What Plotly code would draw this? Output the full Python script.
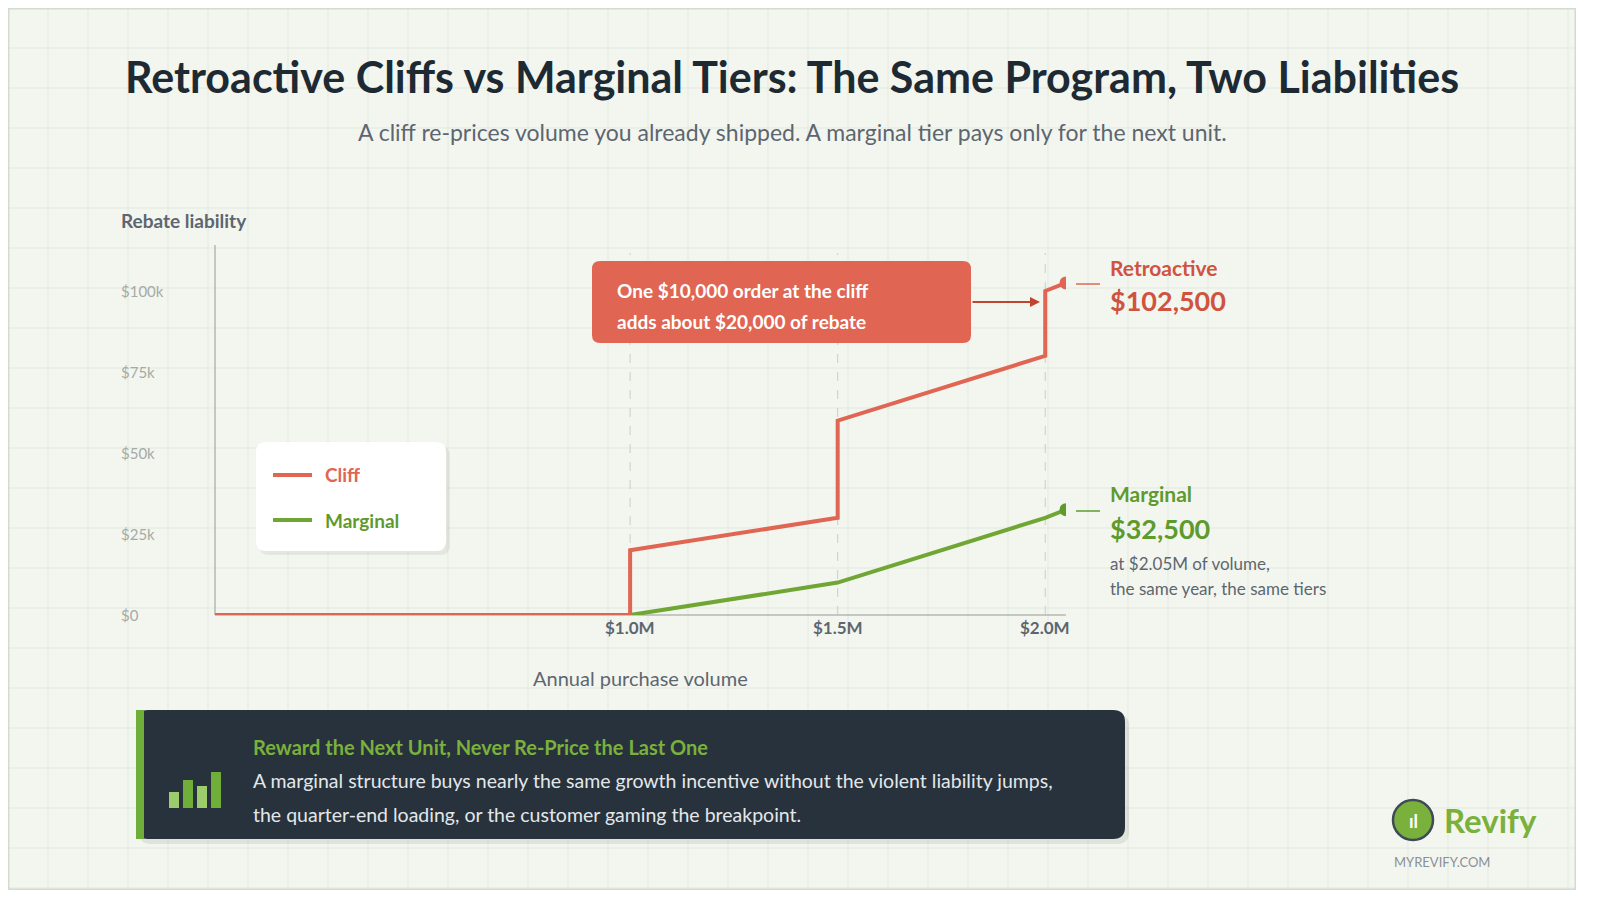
import plotly.graph_objects as go

W, H = 1568, 882
cliff_x = [0, 1.0, 1.0, 1.5, 1.5, 2.0, 2.0, 2.05]
cliff_y = [0, 0, 20, 30, 60, 80, 100, 102.5]
marg_x = [0, 1.0, 1.5, 2.0, 2.05]
marg_y = [0, 0, 10, 30, 32.5]
x_ticks = [1.0, 1.5, 2.0]
x_labels = ["$1.0M", "$1.5M", "$2.0M"]
y_ticks = [0, 25, 50, 75, 100]
y_labels = ["$0", "$25k", "$50k", "$75k", "$100k"]

RED = "#e06552"; GREEN = "#6fa634"; DARK = "#1e2a33"; GREY = "#5d6670"
FONT = "Lato"

def px(x): return x / W
def py(y): return 1 - y / H

def rrect(x0, y0, x1, y1, r, fill, line=None, lw=0):
    X0, X1 = px(x0), px(x1); Y0, Y1 = py(y0), py(y1)
    rx, ry = r / W, r / H
    p = (f"M{X0+rx},{Y0} L{X1-rx},{Y0} Q{X1},{Y0} {X1},{Y0-ry} L{X1},{Y1+ry} Q{X1},{Y1} {X1-rx},{Y1} "
         f"L{X0+rx},{Y1} Q{X0},{Y1} {X0},{Y1+ry} L{X0},{Y0-ry} Q{X0},{Y0} {X0+rx},{Y0} Z")
    return dict(type="path", xref="paper", yref="paper", path=p, fillcolor=fill,
                line=dict(color=line or fill, width=lw), layer="above")

fig = go.Figure()
fig.add_trace(go.Scatter(x=marg_x, y=marg_y, mode="lines", line=dict(color=GREEN, width=4), showlegend=False, hoverinfo="skip"))
fig.add_trace(go.Scatter(x=cliff_x, y=cliff_y, mode="lines", line=dict(color=RED, width=4), showlegend=False, hoverinfo="skip"))
fig.add_trace(go.Scatter(x=[cliff_x[-1], marg_x[-1]], y=[cliff_y[-1], marg_y[-1]], mode="markers",
                         marker=dict(color=[RED, "#5e9a2c"], size=13), showlegend=False, hoverinfo="skip"))

shapes = []
for gx in range(40, W, 40):
    shapes.append(dict(type="line", xref="paper", yref="paper", x0=px(gx), x1=px(gx), y0=0, y1=1,
                       line=dict(color="#e2e8df", width=1), layer="below"))
for gy in range(40, H, 40):
    shapes.append(dict(type="line", xref="paper", yref="paper", x0=0, x1=1, y0=py(gy), y1=py(gy),
                       line=dict(color="#e2e8df", width=1), layer="below"))
shapes.append(dict(type="rect", xref="paper", yref="paper", x0=0, x1=1, y0=0, y1=1,
                   line=dict(color="#d3dbcd", width=3), layer="below"))
for t in x_ticks:
    shapes.append(dict(type="line", xref="x", yref="paper", x0=t, x1=t, y0=py(607), y1=py(245),
                       line=dict(color="#c9cdc6", width=1, dash="dash"), layer="below"))
shapes.append(dict(type="line", xref="paper", yref="paper", x0=px(207), x1=px(207), y0=py(237), y1=py(607),
                   line=dict(color="#b5b9b4", width=1.5), layer="below"))
shapes.append(dict(type="line", xref="paper", yref="paper", x0=px(207), x1=px(1058), y0=py(607), y1=py(607),
                   line=dict(color="#b5b9b4", width=1.5), layer="below"))
shapes.append(rrect(584, 253, 963, 335, 8, RED))
for yy, c in [(276, RED), (503, "#5e9a2c")]:
    shapes.append(dict(type="line", xref="paper", yref="paper", x0=px(1068), x1=px(1092), y0=py(yy), y1=py(yy),
                       line=dict(color=c, width=1.5)))
shapes.append(rrect(251, 438, 442, 547, 10, "rgba(0,0,0,0.06)"))
shapes.append(rrect(248, 434, 438, 543, 10, "white"))
shapes.append(dict(type="line", xref="paper", yref="paper", x0=px(265), x1=px(304), y0=py(467), y1=py(467), line=dict(color=RED, width=4), layer="above"))
shapes.append(dict(type="line", xref="paper", yref="paper", x0=px(265), x1=px(304), y0=py(512), y1=py(512), line=dict(color=GREEN, width=4), layer="above"))
shapes.append(rrect(131, 706, 1121, 836, 12, "rgba(0,0,0,0.08)"))
shapes.append(rrect(128, 702, 1117, 831, 12, "#27323c"))
shapes.append(dict(type="rect", xref="paper", yref="paper", x0=px(128), x1=px(136), y0=py(831), y1=py(702),
                   fillcolor="#6fae39", line=dict(width=0), layer="above"))
for (x0, top, c) in [(161, 784, "#9ccc6c"), (175, 772, "#6fae39"), (189, 778, "#9ccc6c"), (203, 764, "#6fae39")]:
    shapes.append(dict(type="rect", xref="paper", yref="paper", x0=px(x0), x1=px(x0+10), y0=py(800), y1=py(top),
                       fillcolor=c, line=dict(width=0), layer="above"))
shapes.append(dict(type="circle", xref="paper", yref="paper", x0=px(1385), x1=px(1425), y0=py(832), y1=py(792),
                   fillcolor="#7ab03c", line=dict(color="#3e4a55", width=2.5)))

ann = []
def A(x, y, text, size, color, xanchor="left", bold=False, yanchor="middle", **kw):
    t = f"<b>{text}</b>" if bold else text
    ann.append(dict(xref="paper", yref="paper", x=px(x), y=py(y), text=t, showarrow=False,
                    font=dict(family=FONT, size=size, color=color), xanchor=xanchor, yanchor=yanchor, **kw))

A(784, 69, "Retroactive Cliffs vs Marginal Tiers: The Same Program, Two Liabilities", 43, DARK, "center", True)
A(784, 124, "A cliff re-prices volume you already shipped. A marginal tier pays only for the next unit.", 23, GREY, "center")
A(111, 213, "Rebate liability", 19, GREY, bold=True)
for v, l in zip(y_ticks, y_labels):
    ann.append(dict(xref="paper", yref="y", x=px(111), y=v, text=l, showarrow=False, xanchor="left",
                    font=dict(family=FONT, size=15, color="#a6aaa6")))
for v, l in zip(x_ticks, x_labels):
    ann.append(dict(xref="x", yref="paper", x=v, y=py(632), text=f"<b>{l}</b>", showarrow=False,
                    font=dict(family=FONT, size=17, color=GREY)))
A(632, 670, "Annual purchase volume", 20, GREY, "center")
A(607, 282, "One $10,000 order at the cliff", 19, "white", bold=True)
A(607, 313, "adds about $20,000 of rebate", 19, "white", bold=True)
ann.append(dict(xref="paper", yref="paper", x=px(1032), y=py(294), ax=-69, ay=0,
                text="", showarrow=True, arrowhead=2, arrowsize=1, arrowwidth=2, arrowcolor="#c0442f"))
A(1100, 259, "Retroactive", 21, "#d0533f", bold=True)
A(1100, 293, "$102,500", 27, "#d0533f", bold=True)
A(1100, 486, "Marginal", 21, "#5e9a2c", bold=True)
A(1100, 520, "$32,500", 27, "#5e9a2c", bold=True)
A(1100, 555, "at $2.05M of volume,", 17, GREY)
A(1100, 580, "the same year, the same tiers", 17, GREY)
A(315, 467, "Cliff", 19, RED, bold=True)
A(315, 512, "Marginal", 19, "#5e9a2c", bold=True)
A(243, 739, "Reward the Next Unit, Never Re-Price the Last One", 20, "#7ab03c", bold=True)
A(243, 772, "A marginal structure buys nearly the same growth incentive without the violent liability jumps,", 19.5, "#e3e7ea")
A(243, 806, "the quarter-end loading, or the customer gaming the breakpoint.", 19.5, "#e3e7ea")
A(1405, 813, "<b>ıl</b>", 18, "white", "center")
A(1434, 812, "Revify", 33, "#7ab03c", bold=True)
A(1384, 854, "MYREVIFY.COM", 13, "#8a9098")

fig.update_layout(
    width=W, height=H, margin=dict(l=0, r=0, t=0, b=0),
    paper_bgcolor="#f3f6ef", plot_bgcolor="rgba(0,0,0,0)",
    xaxis=dict(domain=[px(207), px(1058)], range=[0, 2.05], visible=False, fixedrange=True),
    yaxis=dict(domain=[py(607), py(237)], range=[0, (607 - 237) / 3.24], visible=False, fixedrange=True),
    shapes=shapes, annotations=ann, font=dict(family=FONT),
)
fig.write_html("out.html", config={"displayModeBar": False})
